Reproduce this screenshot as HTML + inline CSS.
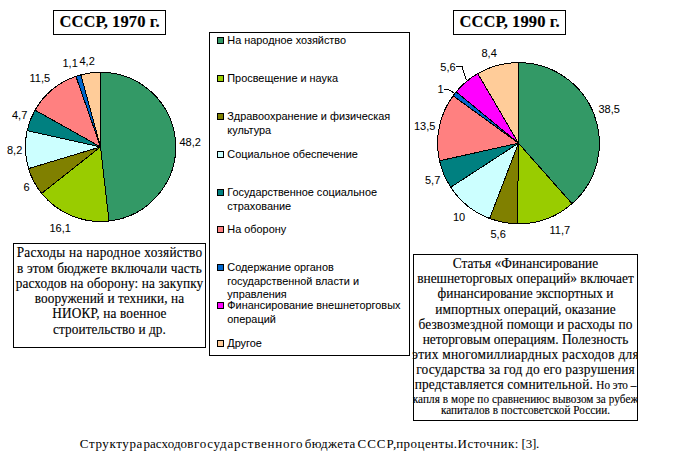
<!DOCTYPE html>
<html><head><meta charset="utf-8"><style>
html,body{margin:0;padding:0;background:#fff;}
body{width:676px;height:462px;position:relative;overflow:hidden;}
.t{position:absolute;white-space:nowrap;color:#000;-webkit-text-stroke:0.12px #000;}
.s{-webkit-text-stroke:0.05px #000;}
.b{position:absolute;border:1px solid #000;background:#fff;}
.m{position:absolute;width:5px;height:5px;border:1px solid #000;}
svg{position:absolute;left:0;top:0;}
</style></head><body>
<svg width="676" height="462" viewBox="0 0 676 462" stroke="#000" stroke-width="1" stroke-linejoin="round" shape-rendering="crispEdges">
<path d="M100.50,146.90L100.50,72.30A75.2,74.6 0 0 1 108.99,221.02Z" fill="#339966"/>
<path d="M100.50,146.90L108.99,221.02A75.2,74.6 0 0 1 41.66,193.36Z" fill="#99CC00"/>
<path d="M100.50,146.90L41.66,193.36A75.2,74.6 0 0 1 28.56,168.61Z" fill="#808000"/>
<path d="M100.50,146.90L28.56,168.61A75.2,74.6 0 0 1 27.11,130.63Z" fill="#CCFFFF"/>
<path d="M100.50,146.90L27.11,130.63A75.2,74.6 0 0 1 35.06,110.14Z" fill="#008080"/>
<path d="M100.50,146.90L35.06,110.14A75.2,74.6 0 0 1 75.92,76.40Z" fill="#FF8080"/>
<path d="M100.50,146.90L75.92,76.40A75.2,74.6 0 0 1 80.88,74.88Z" fill="#0066CC"/>
<path d="M100.50,146.90L80.88,74.88A75.2,74.6 0 0 1 100.50,72.30Z" fill="#FFCC99"/>
<path d="M518.50,143.20L518.50,62.60A80.9,80.6 0 0 1 572.00,203.66Z" fill="#339966"/>
<path d="M518.50,143.20L572.00,203.66A80.9,80.6 0 0 1 517.48,223.79Z" fill="#99CC00"/>
<path d="M518.50,143.20L517.48,223.79A80.9,80.6 0 0 1 489.67,218.51Z" fill="#808000"/>
<path d="M518.50,143.20L489.67,218.51A80.9,80.6 0 0 1 450.74,187.24Z" fill="#CCFFFF"/>
<path d="M518.50,143.20L450.74,187.24A80.9,80.6 0 0 1 439.55,160.78Z" fill="#008080"/>
<path d="M518.50,143.20L439.55,160.78A80.9,80.6 0 0 1 453.05,95.82Z" fill="#FF8080"/>
<path d="M518.50,143.20L453.05,95.82A80.9,80.6 0 0 1 456.17,91.82Z" fill="#0066CC"/>
<path d="M518.50,143.20L456.17,91.82A80.9,80.6 0 0 1 477.76,73.57Z" fill="#FF00FF"/>
<path d="M518.50,143.20L477.76,73.57A80.9,80.6 0 0 1 518.50,62.60Z" fill="#FFCC99"/>
<polyline points="456,66.5 462,66.5 466.5,80.5" fill="none" stroke="#000" stroke-width="1"/>
<polyline points="443.5,89.5 448.5,89.5 454,93" fill="none" stroke="#000" stroke-width="1"/>
</svg>
<div class="b" style="left:53px;top:10px;width:111px;height:23px"></div>
<div class="t" style="left:59.50px;top:13.68px;font-family:'Liberation Serif', serif;font-size:16.5px;line-height:16.5px;font-weight:700;letter-spacing:0.1px;">СССР, 1970 г.</div>
<div class="b" style="left:453px;top:10px;width:111px;height:23px"></div>
<div class="t" style="left:459.50px;top:13.68px;font-family:'Liberation Serif', serif;font-size:16.5px;line-height:16.5px;font-weight:700;letter-spacing:0.1px;">СССР, 1990 г.</div>
<div class="b" style="left:209px;top:32px;width:199px;height:322px"></div>
<div class="m" style="left:217px;top:37px;background:#339966"></div>
<div class="t s" style="left:227.30px;top:35.07px;font-family:'Liberation Sans', sans-serif;font-size:10.9px;line-height:10.9px;">На народное хозяйство</div>
<div class="m" style="left:217px;top:75px;background:#99CC00"></div>
<div class="t s" style="left:227.30px;top:73.07px;font-family:'Liberation Sans', sans-serif;font-size:10.9px;line-height:10.9px;">Просвещение и наука</div>
<div class="m" style="left:217px;top:113px;background:#808000"></div>
<div class="t s" style="left:227.30px;top:111.07px;font-family:'Liberation Sans', sans-serif;font-size:10.9px;line-height:10.9px;">Здравоохранение и физическая</div>
<div class="t s" style="left:227.30px;top:124.77px;font-family:'Liberation Sans', sans-serif;font-size:10.9px;line-height:10.9px;">культура</div>
<div class="m" style="left:217px;top:151px;background:#CCFFFF"></div>
<div class="t s" style="left:227.30px;top:149.07px;font-family:'Liberation Sans', sans-serif;font-size:10.9px;line-height:10.9px;">Социальное обеспечение</div>
<div class="m" style="left:217px;top:189px;background:#008080"></div>
<div class="t s" style="left:227.30px;top:187.07px;font-family:'Liberation Sans', sans-serif;font-size:10.9px;line-height:10.9px;">Государственное социальное</div>
<div class="t s" style="left:227.30px;top:200.77px;font-family:'Liberation Sans', sans-serif;font-size:10.9px;line-height:10.9px;">страхование</div>
<div class="m" style="left:217px;top:226px;background:#FF8080"></div>
<div class="t s" style="left:227.30px;top:224.07px;font-family:'Liberation Sans', sans-serif;font-size:10.9px;line-height:10.9px;">На оборону</div>
<div class="m" style="left:217px;top:264px;background:#0066CC"></div>
<div class="t s" style="left:227.30px;top:262.07px;font-family:'Liberation Sans', sans-serif;font-size:10.9px;line-height:10.9px;">Содержание органов</div>
<div class="t s" style="left:227.30px;top:275.77px;font-family:'Liberation Sans', sans-serif;font-size:10.9px;line-height:10.9px;">государственной власти и</div>
<div class="t s" style="left:227.30px;top:289.47px;font-family:'Liberation Sans', sans-serif;font-size:10.9px;line-height:10.9px;">управления</div>
<div class="m" style="left:217px;top:302px;background:#FF00FF"></div>
<div class="t s" style="left:227.30px;top:300.07px;font-family:'Liberation Sans', sans-serif;font-size:10.9px;line-height:10.9px;">Финансирование внешнеторговых</div>
<div class="t s" style="left:227.30px;top:313.77px;font-family:'Liberation Sans', sans-serif;font-size:10.9px;line-height:10.9px;">операций</div>
<div class="m" style="left:217px;top:340px;background:#FFCC99"></div>
<div class="t s" style="left:227.30px;top:338.07px;font-family:'Liberation Sans', sans-serif;font-size:10.9px;line-height:10.9px;">Другое</div>
<div class="t s" style="left:179.50px;top:136.69px;font-family:'Liberation Sans', sans-serif;font-size:11px;line-height:11px;">48,2</div>
<div class="t s" style="left:49.50px;top:222.69px;font-family:'Liberation Sans', sans-serif;font-size:11px;line-height:11px;">16,1</div>
<div class="t s" style="left:23.50px;top:181.69px;font-family:'Liberation Sans', sans-serif;font-size:11px;line-height:11px;">6</div>
<div class="t s" style="left:7.00px;top:144.69px;font-family:'Liberation Sans', sans-serif;font-size:11px;line-height:11px;">8,2</div>
<div class="t s" style="left:12.00px;top:109.69px;font-family:'Liberation Sans', sans-serif;font-size:11px;line-height:11px;">4,7</div>
<div class="t s" style="left:29.50px;top:72.69px;font-family:'Liberation Sans', sans-serif;font-size:11px;line-height:11px;">11,5</div>
<div class="t s" style="left:62.50px;top:57.69px;font-family:'Liberation Sans', sans-serif;font-size:11px;line-height:11px;">1,1</div>
<div class="t s" style="left:79.50px;top:55.69px;font-family:'Liberation Sans', sans-serif;font-size:11px;line-height:11px;">4,2</div>
<div class="t s" style="left:598.50px;top:103.69px;font-family:'Liberation Sans', sans-serif;font-size:11px;line-height:11px;">38,5</div>
<div class="t s" style="left:549.50px;top:224.69px;font-family:'Liberation Sans', sans-serif;font-size:11px;line-height:11px;">11,7</div>
<div class="t s" style="left:490.50px;top:228.69px;font-family:'Liberation Sans', sans-serif;font-size:11px;line-height:11px;">5,6</div>
<div class="t s" style="left:453.00px;top:211.69px;font-family:'Liberation Sans', sans-serif;font-size:11px;line-height:11px;">10</div>
<div class="t s" style="left:425.00px;top:174.69px;font-family:'Liberation Sans', sans-serif;font-size:11px;line-height:11px;">5,7</div>
<div class="t s" style="left:414.00px;top:120.69px;font-family:'Liberation Sans', sans-serif;font-size:11px;line-height:11px;">13,5</div>
<div class="t s" style="left:437.50px;top:84.19px;font-family:'Liberation Sans', sans-serif;font-size:11px;line-height:11px;">1</div>
<div class="t s" style="left:440.30px;top:61.89px;font-family:'Liberation Sans', sans-serif;font-size:11px;line-height:11px;">5,6</div>
<div class="t s" style="left:481.50px;top:47.69px;font-family:'Liberation Sans', sans-serif;font-size:11px;line-height:11px;">8,4</div>
<div class="b" style="left:13px;top:243px;width:191px;height:103px"></div>
<div class="t" style="left:-190.50px;width:600px;text-align:center;top:246.06px;font-family:'Liberation Serif', serif;font-size:13.3px;line-height:13.3px;transform:scaleY(1.12);transform-origin:0 11.14px;letter-spacing:0.25px;">Расходы на народное хозяйство</div>
<div class="t" style="left:-190.50px;width:600px;text-align:center;top:262.06px;font-family:'Liberation Serif', serif;font-size:13.3px;line-height:13.3px;transform:scaleY(1.12);transform-origin:0 11.14px;letter-spacing:0.14px;">в этом бюджете включали часть</div>
<div class="t" style="left:-190.50px;width:600px;text-align:center;top:276.86px;font-family:'Liberation Serif', serif;font-size:13.3px;line-height:13.3px;transform:scaleY(1.12);transform-origin:0 11.14px;letter-spacing:0.1px;">расходов на оборону: на закупку</div>
<div class="t" style="left:-190.50px;width:600px;text-align:center;top:292.06px;font-family:'Liberation Serif', serif;font-size:13.3px;line-height:13.3px;transform:scaleY(1.12);transform-origin:0 11.14px;letter-spacing:0.05px;">вооружений и техники, на</div>
<div class="t" style="left:-190.50px;width:600px;text-align:center;top:307.36px;font-family:'Liberation Serif', serif;font-size:13.3px;line-height:13.3px;transform:scaleY(1.12);transform-origin:0 11.14px;letter-spacing:0.12px;">НИОКР, на военное</div>
<div class="t" style="left:-190.50px;width:600px;text-align:center;top:322.56px;font-family:'Liberation Serif', serif;font-size:13.3px;line-height:13.3px;transform:scaleY(1.12);transform-origin:0 11.14px;letter-spacing:0.06px;">строительство и др.</div>
<div class="b" style="left:413px;top:254px;width:223px;height:165px"></div>
<div class="t" style="left:225.50px;width:600px;text-align:center;top:256.78px;font-family:'Liberation Serif', serif;font-size:13.4px;line-height:13.4px;transform:scaleY(1.12);transform-origin:0 11.22px;clip-path:inset(0 188.5px 0 0);">Статья «Финансирование</div>
<div class="t" style="left:225.50px;width:600px;text-align:center;top:271.78px;font-family:'Liberation Serif', serif;font-size:13.4px;line-height:13.4px;transform:scaleY(1.12);transform-origin:0 11.22px;clip-path:inset(0 188.5px 0 0);">внешнеторговых операций» включает</div>
<div class="t" style="left:225.50px;width:600px;text-align:center;top:286.78px;font-family:'Liberation Serif', serif;font-size:13.4px;line-height:13.4px;transform:scaleY(1.12);transform-origin:0 11.22px;clip-path:inset(0 188.5px 0 0);">финансирование экспортных и</div>
<div class="t" style="left:225.50px;width:600px;text-align:center;top:302.58px;font-family:'Liberation Serif', serif;font-size:13.4px;line-height:13.4px;transform:scaleY(1.12);transform-origin:0 11.22px;letter-spacing:0.05px;clip-path:inset(0 188.5px 0 0);">импортных операций, оказание</div>
<div class="t" style="left:225.50px;width:600px;text-align:center;top:317.78px;font-family:'Liberation Serif', serif;font-size:13.4px;line-height:13.4px;transform:scaleY(1.12);transform-origin:0 11.22px;letter-spacing:0.09px;clip-path:inset(0 188.5px 0 0);">безвозмездной помощи и расходы по</div>
<div class="t" style="left:225.50px;width:600px;text-align:center;top:333.18px;font-family:'Liberation Serif', serif;font-size:13.4px;line-height:13.4px;transform:scaleY(1.12);transform-origin:0 11.22px;clip-path:inset(0 188.5px 0 0);">неторговым операциям. Полезность</div>
<div class="t" style="left:225.50px;width:600px;text-align:center;top:348.18px;font-family:'Liberation Serif', serif;font-size:13.4px;line-height:13.4px;transform:scaleY(1.12);transform-origin:0 11.22px;letter-spacing:0.25px;clip-path:inset(0 188.5px 0 0);">этих многомиллиардных расходов для</div>
<div class="t" style="left:225.50px;width:600px;text-align:center;top:363.28px;font-family:'Liberation Serif', serif;font-size:13.4px;line-height:13.4px;transform:scaleY(1.12);transform-origin:0 11.22px;letter-spacing:0.17px;clip-path:inset(0 188.5px 0 0);">государства за год до его разрушения</div>
<div class="t" style="left:225.50px;width:600px;text-align:center;top:378.38px;font-family:'Liberation Serif', serif;font-size:13.4px;line-height:13.4px;transform:scaleY(1.12);transform-origin:0 11.22px;letter-spacing:0.12px;clip-path:inset(0 188.5px 0 0);">представляется сомнительной. <span style="font-size:11.2px;letter-spacing:0">Но это –</span></div>
<div class="t" style="left:225.50px;width:600px;text-align:center;top:393.62px;font-family:'Liberation Serif', serif;font-size:11.2px;line-height:11.2px;transform:scaleY(1.12);transform-origin:0 9.38px;letter-spacing:0.07px;clip-path:inset(0 188.5px 0 0);">капля в море по сравнениюс вывозом за рубеж</div>
<div class="t" style="left:225.50px;width:600px;text-align:center;top:404.92px;font-family:'Liberation Serif', serif;font-size:11.2px;line-height:11.2px;transform:scaleY(1.12);transform-origin:0 9.38px;letter-spacing:0.04px;clip-path:inset(0 188.5px 0 0);">капиталов в постсоветской России.</div>
<div class="t" style="left:79.80px;top:436.91px;font-family:'Liberation Serif', serif;font-size:13px;line-height:13px;letter-spacing:0.62px;-webkit-text-stroke:0;">Структура</div>
<div class="t" style="left:143.40px;top:436.91px;font-family:'Liberation Serif', serif;font-size:13px;line-height:13px;letter-spacing:0.1px;-webkit-text-stroke:0;">расходов</div>
<div class="t" style="left:193.90px;top:436.91px;font-family:'Liberation Serif', serif;font-size:13px;line-height:13px;letter-spacing:0.76px;-webkit-text-stroke:0;">государственного</div>
<div class="t" style="left:304.70px;top:436.91px;font-family:'Liberation Serif', serif;font-size:13px;line-height:13px;letter-spacing:0.37px;-webkit-text-stroke:0;">бюджета</div>
<div class="t" style="left:357.50px;top:436.91px;font-family:'Liberation Serif', serif;font-size:13px;line-height:13px;letter-spacing:1.0px;-webkit-text-stroke:0;">СССР,</div>
<div class="t" style="left:396.20px;top:436.91px;font-family:'Liberation Serif', serif;font-size:13px;line-height:13px;letter-spacing:0.45px;-webkit-text-stroke:0;">проценты.</div>
<div class="t" style="left:457.60px;top:436.91px;font-family:'Liberation Serif', serif;font-size:13px;line-height:13px;letter-spacing:0.45px;-webkit-text-stroke:0;">Источник:</div>
<div class="t" style="left:521.60px;top:436.91px;font-family:'Liberation Serif', serif;font-size:13px;line-height:13px;letter-spacing:-0.23px;-webkit-text-stroke:0;">[3].</div>
</body></html>
